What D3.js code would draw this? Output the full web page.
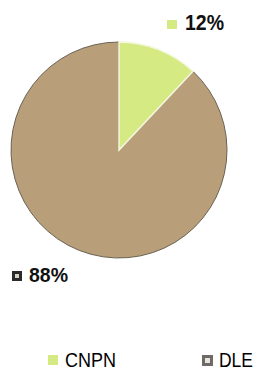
<!DOCTYPE html>
<html>
<head>
<meta charset="utf-8">
<script src="https://cdn.jsdelivr.net/npm/d3@7"></script>
<style>
  body { margin: 0; background: #fff; }
  text { font-family: "Liberation Sans", Arial, sans-serif; fill: #111; }
</style>
</head>
<body>
<div class="chart"></div>
<script>
// Data
var categories = ["CNPN", "DLE"];
var values = [12, 88];
var labels = ["12%", "88%"];
var colors = ["#d6ea84", "#b89f7a"];

var svgWidth = 257;
var svgHeight = 371;
var cx = 119, cy = 150, radius = 108;

var svg = d3.select(".chart")
  .append("svg")
  .attr("width", svgWidth)
  .attr("height", svgHeight);

var pie = d3.pie().sort(null).value(function(d) { return d; });
var arc = d3.arc().innerRadius(0).outerRadius(radius);

var chart = svg.append("g")
  .attr("transform", "translate(" + cx + "," + cy + ")");

var slices = pie(values);

chart.selectAll("path")
  .data(slices)
  .enter().append("path")
    .attr("d", arc)
    .attr("fill", function(d, i) { return colors[i]; })
    .attr("stroke", function(d, i) { return i === 0 ? "#f4f8e0" : "#6b6256"; })
    .attr("stroke-width", function(d, i) { return i === 0 ? 1.5 : 1; })
    .attr("stroke-linejoin", "round");

// redraw green on top so its light edge shows against the dark outline
chart.append("path")
  .attr("d", arc(slices[0]))
  .attr("fill", colors[0])
  .attr("stroke", "#f4f8e0")
  .attr("stroke-width", 1.5);

// Slice labels (narrow look via textLength)
var labelPos = [{x: 167, y: 20, tx: 185, ty: 30, size: 22, w: 39}, {x: 12, y: 271, tx: 29, ty: 282, size: 20, w: 39}];

labelPos.forEach(function(p, i) {
  if (i === 0) {
    svg.append("rect")
      .attr("x", p.x).attr("y", p.y).attr("width", 10).attr("height", 9)
      .attr("fill", colors[0]);
  } else {
    svg.append("rect")
      .attr("x", p.x).attr("y", p.y).attr("width", 10).attr("height", 10)
      .attr("fill", "#2b2b2b");
    svg.append("rect")
      .attr("x", p.x + 3).attr("y", p.y + 3).attr("width", 4).attr("height", 4)
      .attr("fill", "#d8d2c8");
  }
  svg.append("text")
    .attr("x", p.tx)
    .attr("y", p.ty)
    .attr("font-size", p.size + "px")
    .attr("font-weight", "bold")
    .attr("textLength", p.w)
    .attr("lengthAdjust", "spacingAndGlyphs")
    .text(labels[i]);
});

// Legend
var legendX = [48, 202];
var legendW = [51, 34];
var legend = svg.selectAll(".legend")
  .data(categories)
  .enter().append("g")
  .attr("class", "legend")
  .attr("transform", function(d, i) { return "translate(" + legendX[i] + ",355)"; });

legend.each(function(d, i) {
  var g = d3.select(this);
  if (i === 0) {
    g.append("rect").attr("width", 10).attr("height", 10).attr("fill", colors[0]);
  } else {
    g.append("rect").attr("width", 11).attr("height", 11).attr("fill", "#6e6a66");
    g.append("rect").attr("x", 3).attr("y", 3).attr("width", 5).attr("height", 5).attr("fill", "#e8e4de");
  }
  g.append("text")
    .attr("x", 17)
    .attr("y", 12)
    .attr("font-size", "20px")
    .attr("textLength", legendW[i])
    .attr("lengthAdjust", "spacingAndGlyphs")
    .style("fill", "#000")
    .text(d);
});
</script>
</body>
</html>
